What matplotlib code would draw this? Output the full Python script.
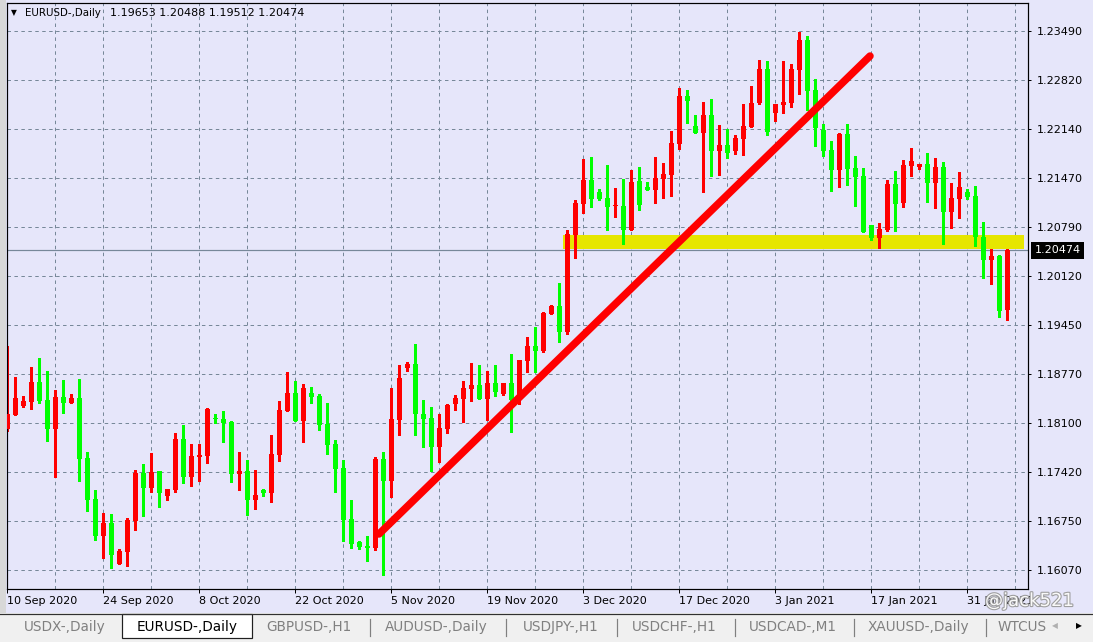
import numpy as np
import matplotlib
matplotlib.use("Agg")
import matplotlib.pyplot as plt
import matplotlib.patches as patches
import matplotlib.patheffects as pe

W, H = 1093, 642

# EURUSD daily, 10 Sep 2020 .. 5 Feb 2021 (one bar per trading day, incl. sunday bars)
opens = [1.18011, 1.18204, 1.18328, 1.18383, 1.18658, 1.18411, 1.18011, 1.18452, 1.18369, 1.18438,
         1.17612, 1.17048, 1.16538, 1.16717, 1.16153, 1.16318, 1.16745, 1.17405, 1.17199, 1.17433,
         1.17089, 1.17172, 1.17874, 1.17350, 1.17626, 1.17640, 1.18149, 1.18149, 1.18107, 1.17392,
         1.17433, 1.17034, 1.17172, 1.17130, 1.17653, 1.18259, 1.18507, 1.18121, 1.18507, 1.18466,
         1.18080, 1.17805, 1.17474, 1.16772, 1.16455, 1.16400, 1.16373, 1.17598, 1.17296, 1.18135,
         1.18851, 1.18906, 1.18218, 1.18163, 1.17763, 1.18011, 1.18356, 1.18424, 1.18562, 1.18617,
         1.18424, 1.18644, 1.18493, 1.18644, 1.18411, 1.18947, 1.19154, 1.19085, 1.19594, 1.19704,
         1.19347, 1.20682, 1.21109, 1.21439, 1.21274, 1.21191, 1.21081, 1.21081, 1.20751, 1.21425,
         1.21343, 1.21301, 1.21453, 1.21508, 1.21935, 1.22595, 1.22183, 1.22086, 1.22334, 1.21838,
         1.21921, 1.21838, 1.22003, 1.22169, 1.22499, 1.22967, 1.22361, 1.22472, 1.22499, 1.22953,
         1.23366, 1.22678, 1.22127, 1.21852, 1.21577, 1.22072, 1.21604, 1.21494, 1.20820, 1.20641,
         1.20751, 1.21384, 1.21122, 1.21632, 1.21618, 1.21659, 1.21398, 1.21618, 1.20999, 1.21178,
         1.21274, 1.21219, 1.20654, 1.20338, 1.20393, 1.19653]
highs = [1.19154, 1.18727, 1.18466, 1.18865, 1.18989, 1.18810, 1.18548, 1.18686, 1.18493, 1.18700,
         1.17695, 1.17172, 1.16855, 1.16841, 1.16359, 1.16786, 1.17447, 1.17529, 1.17681, 1.17433,
         1.17185, 1.17956, 1.18066, 1.17805, 1.17805, 1.18300, 1.18218, 1.18259, 1.18121, 1.17695,
         1.17584, 1.17447, 1.17185, 1.17929, 1.18397, 1.18796, 1.18672, 1.18631, 1.18590, 1.18493,
         1.18369, 1.17860, 1.17584, 1.17034, 1.16470, 1.16538, 1.17626, 1.17695, 1.18576, 1.18892,
         1.18934, 1.19182, 1.18411, 1.18314, 1.18218, 1.18356, 1.18479, 1.18672, 1.18920, 1.18892,
         1.18810, 1.18892, 1.18644, 1.19044, 1.18961, 1.19278, 1.19415, 1.19622, 1.19718, 1.20021,
         1.20751, 1.21164, 1.21728, 1.21756, 1.21315, 1.21646, 1.21329, 1.21453, 1.21577, 1.21618,
         1.21412, 1.21756, 1.21673, 1.22114, 1.22706, 1.22678, 1.22334, 1.22513, 1.22554, 1.22196,
         1.22141, 1.22059, 1.22485, 1.22733, 1.23091, 1.23077, 1.22485, 1.23077, 1.23036, 1.23476,
         1.23421, 1.22829, 1.22210, 1.21976, 1.22086, 1.22210, 1.21770, 1.21604, 1.20820, 1.20847,
         1.21439, 1.21563, 1.21714, 1.21880, 1.21659, 1.21811, 1.21742, 1.21687, 1.21398, 1.21549,
         1.21315, 1.21357, 1.20861, 1.20489, 1.20407, 1.20488]
lows = [1.17984, 1.18204, 1.18314, 1.18287, 1.18369, 1.17846, 1.17350, 1.18232, 1.18369, 1.17296,
        1.16882, 1.16483, 1.16235, 1.16098, 1.16153, 1.16125, 1.16621, 1.16813, 1.17144, 1.16937,
        1.17034, 1.17144, 1.17268, 1.17227, 1.17296, 1.17543, 1.18094, 1.17832, 1.17282, 1.17172,
        1.16827, 1.16910, 1.17089, 1.17006, 1.17571, 1.18259, 1.18121, 1.17832, 1.18369, 1.17997,
        1.17667, 1.17144, 1.16470, 1.16373, 1.16359, 1.16194, 1.16345, 1.16001, 1.17075, 1.17929,
        1.18810, 1.17929, 1.17763, 1.17433, 1.17557, 1.17956, 1.18273, 1.18107, 1.18397, 1.18424,
        1.18135, 1.18466, 1.18479, 1.17970, 1.18356, 1.18796, 1.18796, 1.19071, 1.19594, 1.19209,
        1.19319, 1.20365, 1.20985, 1.21067, 1.21164, 1.20751, 1.20930, 1.20558, 1.20751, 1.21026,
        1.21301, 1.21122, 1.21191, 1.21219, 1.21866, 1.22224, 1.22086, 1.21274, 1.21494, 1.21508,
        1.21742, 1.21797, 1.21783, 1.22169, 1.22485, 1.22059, 1.22251, 1.22361, 1.22444, 1.22623,
        1.22403, 1.21907, 1.21770, 1.21288, 1.21343, 1.21370, 1.21081, 1.20723, 1.20613, 1.20503,
        1.20737, 1.20737, 1.21067, 1.21494, 1.21590, 1.21136, 1.21054, 1.20558, 1.20778, 1.20916,
        1.21178, 1.20531, 1.20090, 1.20007, 1.19553, 1.19512]
closes = [1.18218, 1.18438, 1.18397, 1.18658, 1.18397, 1.18011, 1.18452, 1.18369, 1.18438, 1.17598,
          1.17034, 1.16538, 1.16717, 1.16277, 1.16332, 1.16758, 1.17405, 1.17199, 1.17419, 1.17130,
          1.17185, 1.17874, 1.17350, 1.17640, 1.17653, 1.18287, 1.18145, 1.18094, 1.17392, 1.17433,
          1.17034, 1.17103, 1.17130, 1.17667, 1.18273, 1.18507, 1.18121, 1.18576, 1.18452, 1.18066,
          1.17791, 1.17460, 1.16758, 1.16428, 1.16387, 1.16373, 1.17598, 1.17296, 1.18149, 1.18713,
          1.18906, 1.18218, 1.18149, 1.17763, 1.18025, 1.18342, 1.18438, 1.18576, 1.18617, 1.18424,
          1.18644, 1.18521, 1.18644, 1.18411, 1.18961, 1.19154, 1.19085, 1.19608, 1.19704, 1.19347,
          1.20696, 1.21122, 1.21439, 1.21178, 1.21178, 1.21067, 1.21085, 1.20751, 1.21412, 1.21095,
          1.21301, 1.21467, 1.21522, 1.21949, 1.22595, 1.22527, 1.22086, 1.22334, 1.21838, 1.21921,
          1.21811, 1.22017, 1.22183, 1.22499, 1.22967, 1.22100, 1.22485, 1.22513, 1.22967, 1.23366,
          1.22664, 1.22155, 1.21838, 1.21577, 1.22072, 1.21590, 1.21480, 1.20723, 1.20641, 1.20765,
          1.21384, 1.21109, 1.21646, 1.21701, 1.21659, 1.21398, 1.21618, 1.20999, 1.21191, 1.21343,
          1.21205, 1.20654, 1.20338, 1.20393, 1.19636, 1.20474]

price_labels = ['1.16070', '1.16750', '1.17420', '1.18100', '1.18770', '1.19450',
                '1.20120', '1.20790', '1.21470', '1.22140', '1.22820', '1.23490']
date_labels = ['10 Sep 2020', '24 Sep 2020', '8 Oct 2020', '22 Oct 2020', '5 Nov 2020',
               '19 Nov 2020', '3 Dec 2020', '17 Dec 2020', '3 Jan 2021', '17 Jan 2021',
               '31 Jan 2021']
last_price = 1.20474

# drawn objects: trend line and support zone
trend_x = [46.46, 107.84]
trend_y = [1.16566, 1.23146]
zone_x = [69.5, 127.1]
zone_y = [1.20490, 1.20683]

tabs = ['USDX-,Daily', 'EURUSD-,Daily', 'GBPUSD-,H1', 'AUDUSD-,Daily', 'USDJPY-,H1',
        'USDCHF-,H1', 'USDCAD-,M1', 'XAUUSD-,Daily']
tab_x = [64.7, 187.5, 309.3, 436.7, 560.5, 674, 793, 918.7]
tab_sep = [370, 505.7, 617.3, 735, 854, 985.7]

BG = '#e6e6fa'
GRID = '#778899'
PX = 72.0 / 100  # one pixel in points

plt.rcParams['font.family'] = 'DejaVu Sans'
plt.rcParams['lines.scale_dashes'] = False

fig = plt.figure(figsize=(W / 100, H / 100), dpi=100, facecolor=BG)
ax = fig.add_axes([7 / W, 1 - 589 / H, (1028 - 7) / W, (589 - 3) / H], facecolor=BG)

o = np.array(opens)
c = np.array(closes)
x = np.arange(len(o))
up = c >= o
col = np.where(up, '#ff0000', '#00ff00')

# support zone (behind candles)
ax.add_patch(patches.Rectangle((zone_x[0], zone_y[0]), zone_x[1] - zone_x[0], zone_y[1] - zone_y[0],
                               facecolor='#e6e600', edgecolor='none', zorder=1))
ax.axhline(last_price, color=GRID, lw=1.2 * PX, zorder=1.5)

# candles
ax.vlines(x, lows, highs, colors=col, lw=1.2 * PX, zorder=2, antialiased=False)
body_lo = np.minimum(o, c)
body_h = np.maximum(np.abs(c - o), 0.00014)
ax.bar(x, body_h, bottom=body_lo, width=0.68, color=col, linewidth=0, zorder=3, antialiased=False)

# trend line
ax.plot(trend_x, trend_y, color='#ff0000', lw=7.5 * PX, solid_capstyle='round', zorder=4)

ax.set_xlim(-0.04, 127.59)
ax.set_ylim(1.15809, 1.23876)

# grid / ticks
grid_vals = np.linspace(1.16070, 1.23490, len(price_labels))
ax.set_yticks(grid_vals)
ax.set_yticklabels(price_labels)
ax.yaxis.tick_right()
ax.set_xticks(np.arange(0, 12 * len(date_labels), 12))
ax.set_xticklabels(date_labels, ha='left')
ax.set_xticks(np.arange(6, 128, 12), minor=True)
ax.tick_params(axis='y', which='major', length=3 * PX, width=PX, pad=4, labelsize=8, colors='black')
ax.tick_params(axis='x', which='major', length=4 * PX, width=PX, pad=2, labelsize=8, colors='black')
ax.tick_params(axis='x', which='minor', length=0)
ax.grid(True, which='both', color=GRID, lw=PX, linestyle=(0, (2.5, 2.5)), zorder=0)
ax.set_axisbelow(True)
for s in ax.spines.values():
    s.set_color('black')
    s.set_linewidth(1.2 * PX)

# current price tag
ax.text(1.0065, last_price, '1.20474', transform=ax.get_yaxis_transform(), color='white',
        fontsize=8, ha='left', va='center', clip_on=False, zorder=10,
        bbox=dict(boxstyle='square,pad=0.32', facecolor='black', edgecolor='none'))

# header
fig.text(11 / W, 1 - 13 / H, '\u25bc', fontsize=5.5, va='center', color='black')
fig.text(25 / W, 1 - 13 / H, 'EURUSD-,Daily', fontsize=7.4, va='center', color='black')
fig.text(110 / W, 1 - 13 / H, '1.19653 1.20488 1.19512 1.20474', fontsize=8, va='center',
         color='black')

# window frame strip on the left
fig.patches.append(patches.Rectangle((0, 1 - 613 / H), 6 / W, 613 / H, transform=fig.transFigure,
                                     facecolor='#d8d8d8', edgecolor='none'))

# tab bar
fig.patches.append(patches.Rectangle((0, 0), 1, (H - 613) / H, transform=fig.transFigure,
                                     facecolor='#f0f0f0', edgecolor='none'))
fig.add_artist(plt.Line2D([0, 1], [1 - 613.5 / H] * 2, transform=fig.transFigure,
                          color='#303030', lw=1.2 * PX))
fig.patches.append(patches.Rectangle((121.7 / W, 1 - 638 / H), (252.3 - 121.7) / W, 24 / H,
                                     transform=fig.transFigure, facecolor='white',
                                     edgecolor='#202020', lw=1.2 * PX))
for i, (t, tx) in enumerate(zip(tabs, tab_x)):
    fig.text(tx / W, 1 - 627 / H, t, fontsize=9.8, ha='center', va='center',
             color='black' if i == 1 else '#808080')
for sx in tab_sep:
    fig.add_artist(plt.Line2D([sx / W] * 2, [1 - 619 / H, 1 - 636 / H], transform=fig.transFigure,
                              color='#808080', lw=1.2 * PX))
fig.text(998 / W, 1 - 627 / H, 'WTCUS', fontsize=9.8, ha='left', va='center', color='#808080')
fig.patches.append(patches.Rectangle((1048 / W, 1 - 640 / H), 45 / W, 25 / H,
                                     transform=fig.transFigure, facecolor='#f0f0f0',
                                     edgecolor='none'))
fig.text(1055 / W, 1 - 626 / H, '\u25c0', fontsize=5.5, ha='center', va='center', color='#b0b0b0')
fig.text(1079 / W, 1 - 626 / H, '\u25b6', fontsize=5.5, ha='center', va='center', color='black')

# watermark (sits over the last date label, as in the screenshot)
fig.text(985 / W, 1 - 601 / H, '@jack521', fontsize=13, ha='left', va='center', color='white',
         alpha=0.95, path_effects=[pe.withStroke(linewidth=1.6, foreground='#9a9a9a')])

fig.savefig('out.png', dpi=100, facecolor=BG)
